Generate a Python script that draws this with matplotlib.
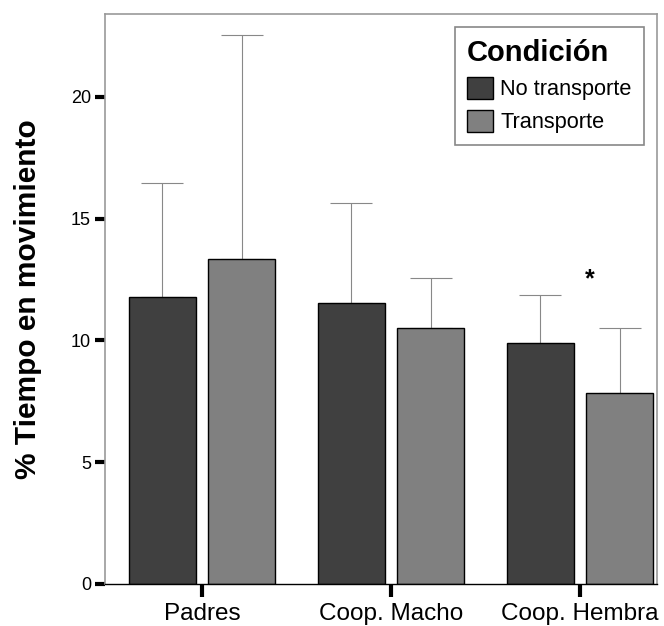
import matplotlib.pyplot as plt
import numpy as np

plt.rcParams['font.family'] = ['Liberation Sans', 'DejaVu Sans']

# data
groups = ["Padres", "Coop. Macho", "Coop. Hembra"]
conditions = ["No transporte", "Transporte"]
no_transporte = [11.8, 11.55, 9.9]
no_transporte_err = [4.65, 4.1, 1.95]
transporte = [13.35, 10.5, 7.85]
transporte_err = [9.2, 2.05, 2.65]
y_ticks = [0, 5, 10, 15, 20]


def main():
    fig = plt.figure(figsize=(6.64, 6.26), dpi=100)
    ax = fig.add_axes([105 / 664, 1 - 584 / 626, 552 / 664, 570 / 626])

    x = np.arange(len(groups))
    width = 0.354
    offset = 0.21
    colors = ["#404040", "#808080"]
    series = [(no_transporte, no_transporte_err), (transporte, transporte_err)]

    for i, (vals, errs) in enumerate(series):
        pos = x + (-offset if i == 0 else offset)
        ax.bar(pos, vals, width, color=colors[i], edgecolor="black",
               linewidth=1.0, label=conditions[i], zorder=2)
        ax.errorbar(pos, vals, yerr=[np.zeros(len(errs)), errs], fmt="none",
                    ecolor="#888888", elinewidth=0.8, capsize=15,
                    capthick=0.8, zorder=1)

    # significance mark
    ax.text(x[2] + 0.05, transporte[2] + transporte_err[2] + 2.0,
            "*", ha="center", va="center", fontsize=18, fontweight="bold")

    ax.set_xlim(-0.513, 2.407)
    ax.set_ylim(0, 23.4)
    ax.set_yticks(y_ticks)
    ax.set_yticklabels([str(t) for t in y_ticks], fontsize=13)
    ax.set_xticks(x)
    ax.set_xticklabels(groups, fontsize=17.5)
    ax.tick_params(axis="y", length=7, width=3, color="black", pad=3)
    ax.tick_params(axis="x", length=9, width=3, color="black", pad=5)

    for side in ["left", "top", "right"]:
        ax.spines[side].set_color("#999999")
        ax.spines[side].set_linewidth(1.2)
    ax.spines["bottom"].set_color("black")
    ax.spines["bottom"].set_linewidth(1.0)

    ax.set_ylabel("% Tiempo en movimiento", fontsize=21.5, fontweight="bold")
    ax.yaxis.set_label_coords(-0.115, 0.5)

    leg = ax.legend(title="Condición", loc="upper right",
                    bbox_to_anchor=(0.976, 0.977), borderaxespad=0,
                    fontsize=15.7,
                    title_fontproperties={"weight": "bold", "size": 21},
                    fancybox=False, framealpha=1, edgecolor="#888888",
                    handlelength=1.19, handleheight=1.15, handletextpad=0.35,
                    labelspacing=0.45, borderpad=0.55)
    leg._legend_box.align = "left"
    leg.get_frame().set_linewidth(1.2)

    fig.savefig("out.png", dpi=100)


if __name__ == "__main__":
    main()
